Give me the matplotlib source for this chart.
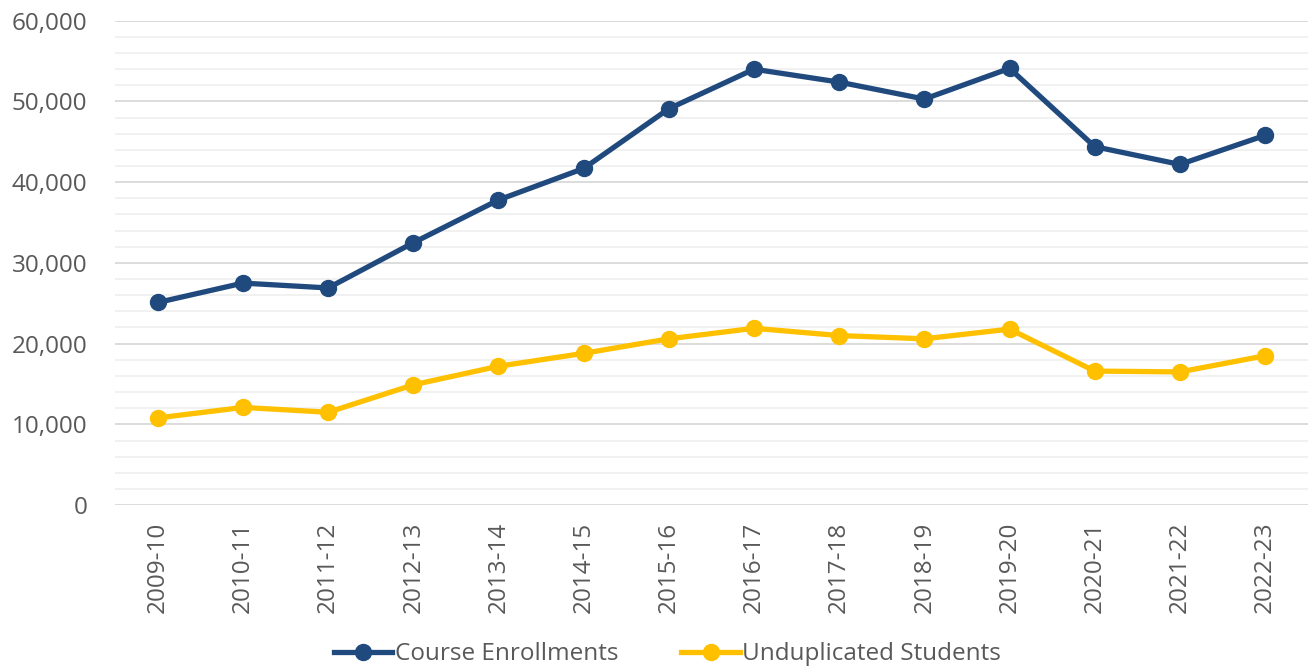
import matplotlib.pyplot as plt
from matplotlib.ticker import MultipleLocator, FuncFormatter

years = ["2009-10", "2010-11", "2011-12", "2012-13", "2013-14", "2014-15", "2015-16",
         "2016-17", "2017-18", "2018-19", "2019-20", "2020-21", "2021-22", "2022-23"]
course_enrollments = [25100, 27500, 26900, 32500, 37800, 41700, 49100,
                      54000, 52400, 50300, 54100, 44400, 42200, 45800]
unduplicated_students = [10800, 12100, 11500, 14900, 17200, 18800, 20600,
                         21900, 21000, 20600, 21800, 16600, 16500, 18500]

plt.rcParams['font.family'] = ['Open Sans', 'DejaVu Sans']

fig = plt.figure(figsize=(13.09, 6.69), dpi=100)
ax = fig.add_axes([0.088, 0.245, 0.911, 0.724])

x = list(range(len(years)))
ax.plot(x, course_enrollments, color="#204A7E", linewidth=3.8, marker="o",
        markersize=11.5, label="Course Enrollments", zorder=3)
ax.plot(x, unduplicated_students, color="#FFC000", linewidth=3.8, marker="o",
        markersize=11.5, label="Unduplicated Students", zorder=3)

ax.set_xlim(-0.5, len(years) - 0.5)
ax.set_ylim(0, 60000)
ax.yaxis.set_major_locator(MultipleLocator(10000))
ax.yaxis.set_minor_locator(MultipleLocator(2000))
ax.yaxis.set_major_formatter(FuncFormatter(lambda v, p: f"{int(v):,}"))
ax.grid(axis="y", which="major", color="#d9d9d9", linewidth=1.3)
ax.grid(axis="y", which="minor", color="#f0f0f0", linewidth=1.3)
ax.set_axisbelow(True)

ax.set_xticks(x)
ax.set_xticklabels(years, rotation=90)
ax.tick_params(axis="both", which="both", length=0, labelsize=17.5, labelcolor="#595959")
ax.tick_params(axis="y", pad=20)
ax.tick_params(axis="x", pad=12)

for s in ax.spines.values():
    s.set_visible(False)

fig.legend(handles=ax.get_lines(), loc="center", bbox_to_anchor=(0.51, 0.022), ncol=2,
           frameon=False, fontsize=17.5, labelcolor="#595959", handlelength=2.4,
           handletextpad=0.1, columnspacing=2.6, borderpad=0)

fig.savefig("out.png", dpi=100)
